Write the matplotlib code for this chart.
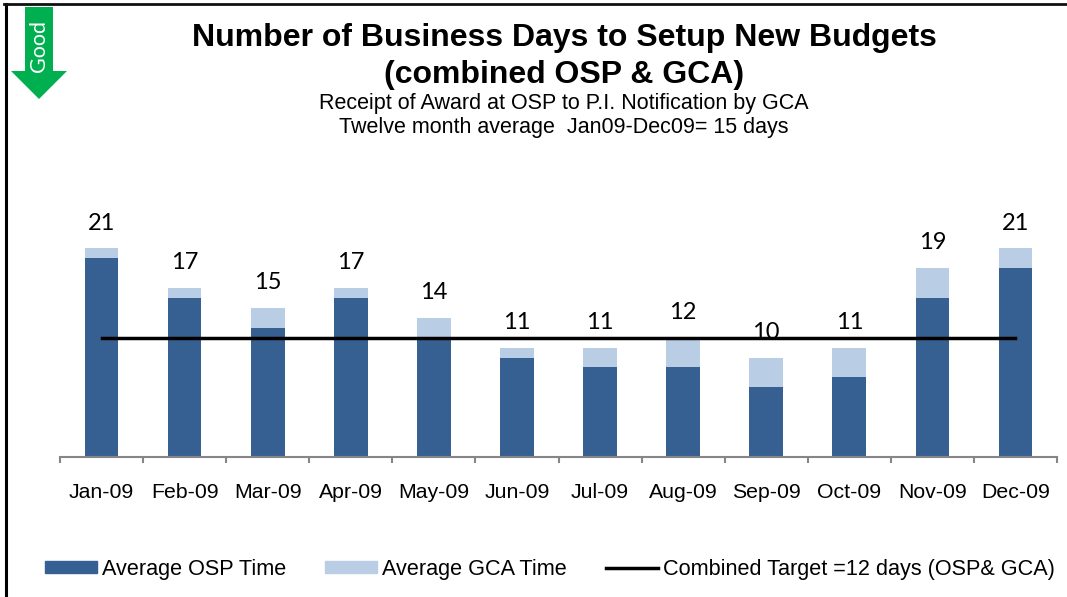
import matplotlib
matplotlib.use('Agg')
import matplotlib.pyplot as plt
from matplotlib.lines import Line2D
from matplotlib.patches import Patch, Polygon
import numpy as np

months = ['Jan-09', 'Feb-09', 'Mar-09', 'Apr-09', 'May-09', 'Jun-09',
          'Jul-09', 'Aug-09', 'Sep-09', 'Oct-09', 'Nov-09', 'Dec-09']
osp_time = [20, 16, 13, 16, 12, 10, 9, 9, 7, 8, 16, 19]
gca_time = [1, 1, 2, 1, 2, 1, 2, 3, 3, 3, 3, 2]
totals = [21, 17, 15, 17, 14, 11, 11, 12, 10, 11, 19, 21]
target = [12] * 12

W, H = 1067, 597
color_osp = '#376092'
color_gca = '#B9CDE5'
color_good = '#00B050'

plt.rcParams['font.family'] = ['Liberation Sans', 'DejaVu Sans']

f = plt.figure(figsize=[W / 100, H / 100], dpi=100)

# pixel position of the plot area, y counted from the top of the picture
left, right, top, bottom = 60, 1057, 150, 457
ax = f.add_axes([left / W, 1 - bottom / H, (right - left) / W, (bottom - top) / H])

x = np.arange(len(months))
ax.bar(x, osp_time, width=0.405, color=color_osp, zorder=2)
ax.bar(x, gca_time, width=0.405, bottom=osp_time, color=color_gca, zorder=2)
ax.plot(x, target, color='black', linewidth=2.5, zorder=3)

for i in x:
    ax.annotate(str(totals[i]), (i, totals[i]), xytext=(0, 18), textcoords='offset points',
                ha='center', va='center', fontsize=17, family='Lato', color='black', zorder=1)

ax.set_xlim(-0.5, 11.5)
ax.set_ylim(0, (bottom - top) / 9.95)
ax.set_yticks([])
for s in ['top', 'left', 'right']:
    ax.spines[s].set_visible(False)
ax.spines['bottom'].set_color('#868686')
ax.spines['bottom'].set_linewidth(1.5)

ax.set_xticks(x)
ax.set_xticklabels(months, fontsize=15.3)
ax.set_xticks(np.arange(-0.5, 12), minor=True)
ax.tick_params(axis='x', which='major', length=0, pad=18.5)
ax.tick_params(axis='x', which='minor', length=4.5, width=1.5, color='#868686')

# titles
f.text(564 / W, 1 - 38 / H, 'Number of Business Days to Setup New Budgets',
       ha='center', va='center', fontsize=23, fontweight='bold')
f.text(564 / W, 1 - 75 / H, '(combined OSP & GCA)',
       ha='center', va='center', fontsize=23, fontweight='bold')
f.text(564 / W, 1 - 104 / H, 'Receipt of Award at OSP to P.I. Notification by GCA',
       ha='center', va='center', fontsize=15.5)
f.text(564 / W, 1 - 128 / H, 'Twelve month average  Jan09-Dec09= 15 days',
       ha='center', va='center', fontsize=15.5)

# green "Good" arrow
arrow_px = [(25, 7), (53, 7), (53, 71), (67, 71), (39, 99), (11, 71), (25, 71)]
f.add_artist(Polygon([(px / W, 1 - py / H) for px, py in arrow_px], closed=True,
                     facecolor=color_good, edgecolor='none', transform=f.transFigure))
f.text(39 / W, 1 - 46 / H, 'Good', rotation=90, ha='center', va='center',
       color='white', fontsize=15.5, family='Lato')

# frame on the left and top only
f.add_artist(Line2D([5.5 / W, 5.5 / W], [0, 1 - 4 / H], color='black', linewidth=2.2,
                    transform=f.transFigure))
f.add_artist(Line2D([4 / W, 1], [1 - 4 / H, 1 - 4 / H], color='#111111', linewidth=2,
                    transform=f.transFigure))

handles = [Patch(color=color_osp), Patch(color=color_gca),
           Line2D([0], [0], color='black', linewidth=2.5)]
labels = ['Average OSP Time', 'Average GCA Time', 'Combined Target =12 days (OSP& GCA)']
f.legend(handles, labels, loc='center left', bbox_to_anchor=(39 / W, 1 - 569 / H), ncol=3,
         frameon=False, fontsize=15.55, handlelength=2.4, handleheight=0.5,
         handletextpad=0.23, columnspacing=1.8, borderaxespad=0, borderpad=0.3)

f.savefig('out.png', dpi=100)
